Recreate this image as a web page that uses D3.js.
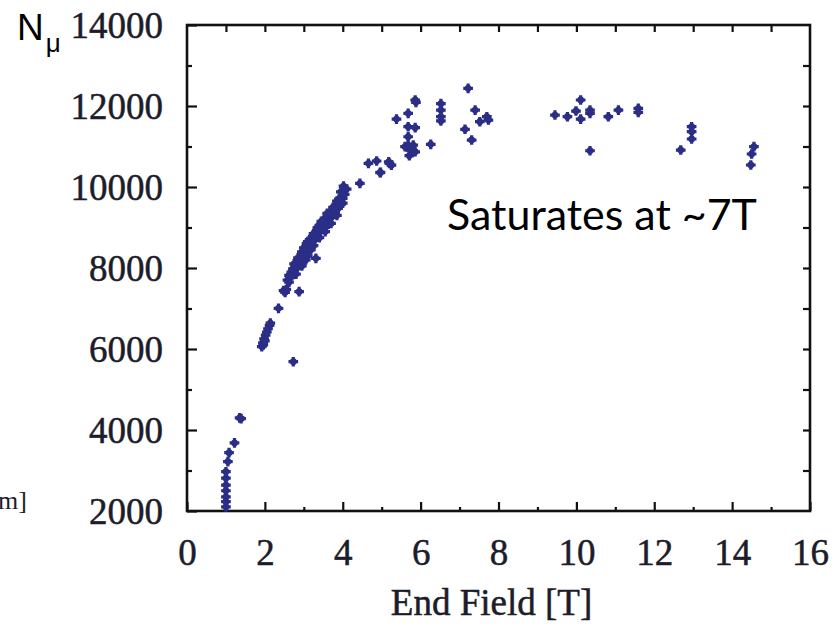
<!DOCTYPE html>
<meta charset="utf-8" />
<title>N_mu vs End Field</title>
<style>
  body { margin: 0; background: #fff; }
  .axis text {
    font-family: "Liberation Serif", "Times New Roman", serif;
    font-size: 37px;
    fill: #1c1c2a;
    stroke: #1c1c2a;
    stroke-width: 0.5;
  }
  .axis path { display: none; }
  .axis line { stroke: #111; stroke-width: 2.2; }
</style>

<body>
  <script src="https://d3js.org/d3.v7.min.js"></script>
  <script>
    // tick values
    var xTicks = [0, 2, 4, 6, 8, 10, 12, 14, 16];
    var xMinorTicks = [1, 3, 5, 7, 9, 11, 13, 15];
    var yTicks = [2000, 4000, 6000, 8000, 10000, 12000, 14000];
    var yMinorTicks = [3000, 5000, 7000, 9000, 11000, 13000];

    // [end field (T), N_mu]
    var lowFieldPts = [
      [1.0, 2100], [1.0, 2230], [1.0, 2350], [1.0, 2500], [1.0, 2640], [1.0, 2810],
      [1.0, 2970], [1.05, 3220], [1.08, 3440], [1.22, 3680], [1.35, 4300], [1.39, 4280]
    ];
    var risePts = [
      [1.92, 6060], [1.95, 6150], [1.96, 6100], [1.98, 6250], [2.0, 6200], [2.02, 6340],
      [2.05, 6420], [2.08, 6500], [2.12, 6580], [2.14, 6640], [2.35, 7005],
      [2.48, 7440], [2.52, 7400], [2.55, 7470], [2.88, 7415], [2.73, 5686], [3.31, 8239]
    ];
    var bandPts = [
      [2.58, 7700], [2.62, 7820], [2.65, 7760], [2.68, 7900], [2.70, 7840], [2.72, 7980],
      [2.75, 7920], [2.78, 8060], [2.80, 7990], [2.82, 8120], [2.85, 8050], [2.88, 8200],
      [2.90, 8130], [2.92, 8280], [2.95, 8220], [2.98, 8360], [3.00, 8290], [3.02, 8450],
      [3.05, 8380], [3.07, 8600], [3.10, 8460], [3.12, 8610], [3.15, 8540], [3.18, 8690],
      [3.20, 8600], [3.22, 8760], [3.25, 8680], [3.28, 8830], [3.30, 8740], [3.32, 8900],
      [3.35, 8810], [3.38, 8960], [3.40, 8880], [3.42, 9040], [3.45, 8960], [3.48, 9110],
      [3.50, 9020], [3.52, 9180], [3.55, 9100], [3.58, 9250], [3.60, 9160], [3.63, 9320],
      [3.66, 9230], [3.70, 9390], [3.73, 9300], [3.76, 9450], [3.80, 9380], [3.84, 9530],
      [3.88, 9470], [3.92, 9640], [3.96, 9580], [4.00, 9720], [4.05, 9820], [4.10, 9950],
      [3.55, 9000], [3.40, 9050], [3.15, 8700], [2.95, 8400], [3.70, 9250], [3.85, 9650],
      [2.75, 8100], [2.85, 8250], [3.00, 8500], [3.10, 8650], [3.25, 8850], [3.35, 9000],
      [3.45, 9150], [3.60, 9350], [3.75, 9500], [3.90, 9700], [2.80, 7850], [2.95, 8050],
      [3.10, 8300], [3.25, 8550], [3.40, 8750], [3.55, 8900], [3.70, 9100], [3.85, 9300],
      [4.00, 9600], [3.05, 8200], [3.95, 9880], [4.02, 10020], [2.62, 7650], [3.18, 8450]
    ];
    var highFieldPts = [
      [4.44, 10091], [4.66, 10585], [4.87, 10642], [4.96, 10353], [4.97, 10362],
      [5.18, 10620], [5.20, 10585], [5.25, 10540], [5.38, 11678], [5.68, 11818],
      [5.86, 12148], [5.88, 12090], [5.68, 11488], [5.86, 11464], [5.68, 11241],
      [5.68, 11036], [5.81, 11036], [5.73, 10913], [5.86, 10870], [5.71, 10773],
      [5.60, 10995], [6.26, 11054], [6.52, 12058], [6.52, 11900], [6.52, 11735],
      [6.52, 11630], [7.22, 12436], [7.40, 11900], [7.14, 11425], [7.31, 11160],
      [7.52, 11612], [7.70, 11735], [7.74, 11654],
      [9.45, 11777], [9.77, 11735], [9.99, 11876], [10.11, 12148], [10.11, 11678],
      [10.35, 11900], [10.35, 11818], [10.35, 10895], [10.82, 11735], [11.08, 11900],
      [11.59, 11942], [11.59, 11843], [12.96, 11488], [12.96, 11365], [12.96, 11185],
      [12.68, 10913], [14.56, 10995], [14.50, 10815], [14.48, 10543]
    ];
    var allPts = lowFieldPts.concat(risePts, bandPts, highFieldPts);

    var W = 838, H = 630;
    var plotLeft = 187, plotRight = 810, plotTop = 25, plotBottom = 511;

    var svg = d3.select("body").append("svg")
      .attr("width", W).attr("height", H);

    var x = d3.scaleLinear().domain([0, 16]).range([plotLeft, plotRight]);
    var y = d3.scaleLinear().domain([2000, 14000]).range([plotBottom, plotTop]);

    // bottom axis: labelled majors + small minors
    var xAxis = svg.append("g").attr("class", "axis")
      .attr("transform", "translate(0," + plotBottom + ")")
      .call(d3.axisBottom(x).tickValues(xTicks).tickSize(-9).tickFormat(d3.format("d")));
    xAxis.selectAll("text").attr("y", 54).attr("dy", 0);
    svg.append("g").attr("class", "axis")
      .attr("transform", "translate(0," + plotBottom + ")")
      .call(d3.axisBottom(x).tickValues(xMinorTicks).tickSize(-4).tickFormat(""));

    // left axis
    var yAxis = svg.append("g").attr("class", "axis")
      .attr("transform", "translate(" + plotLeft + ",0)")
      .call(d3.axisLeft(y).tickValues(yTicks).tickSize(-10).tickFormat(d3.format("d")));
    yAxis.selectAll("text").attr("x", -24).attr("dy", "0.34em");
    svg.append("g").attr("class", "axis")
      .attr("transform", "translate(" + plotLeft + ",0)")
      .call(d3.axisLeft(y).tickValues(yMinorTicks).tickSize(-5).tickFormat(""));

    // mirrored ticks on top and right
    svg.append("g").attr("class", "axis")
      .attr("transform", "translate(0," + plotTop + ")")
      .call(d3.axisTop(x).tickValues(d3.range(1, 16)).tickSize(-7).tickFormat(""));
    svg.append("g").attr("class", "axis")
      .attr("transform", "translate(" + plotRight + ",0)")
      .call(d3.axisRight(y).tickValues(d3.range(3000, 14000, 1000)).tickSize(-7).tickFormat(""));

    // frame
    svg.append("rect")
      .attr("x", plotLeft).attr("y", plotTop)
      .attr("width", plotRight - plotLeft).attr("height", plotBottom - plotTop)
      .attr("fill", "none").attr("stroke", "#111").attr("stroke-width", 2.6);

    // points
    var marker = d3.symbol().type(d3.symbolCross).size(52);
    var pts = svg.append("g").selectAll("g.pt")
      .data(allPts)
      .enter().append("g")
      .attr("transform", function(d) { return "translate(" + x(d[0]) + "," + y(d[1]) + ")"; });
    pts.append("path").attr("d", marker).attr("fill", "#2b2e86");
    pts.append("circle").attr("r", 3.4).attr("fill", "#2b2e86");

    // axis titles
    svg.append("text")
      .attr("x", (plotLeft + plotRight) / 2 - 7).attr("y", 615)
      .attr("text-anchor", "middle")
      .style("font-family", "'Liberation Serif', serif")
      .style("font-size", "37px")
      .style("fill", "#1c1c2a")
      .style("stroke", "#1c1c2a")
      .style("stroke-width", 0.5)
      .text("End Field [T]");

    var nmu = svg.append("text")
      .attr("x", 17).attr("y", 40)
      .style("font-family", "'Liberation Sans', Arial, sans-serif")
      .style("font-size", "37px")
      .style("fill", "#000");
    nmu.append("tspan").text("N");
    nmu.append("tspan").attr("dx", 2).attr("dy", 12).style("font-size", "26px").text("μ");

    // leftover fragment of a neighbouring label
    svg.append("text")
      .attr("x", 27).attr("y", 509)
      .attr("text-anchor", "end")
      .style("font-family", "'Liberation Serif', serif")
      .style("font-size", "26px")
      .style("fill", "#1c1c2a")
      .text("m]");

    // annotation
    svg.append("text")
      .attr("x", 447).attr("y", 230)
      .attr("textLength", 310).attr("lengthAdjust", "spacingAndGlyphs")
      .style("font-family", "Lato, 'Open Sans', sans-serif")
      .style("font-size", "42px")
      .style("fill", "#000")
      .text("Saturates at ~7T");
  </script>
</body>
